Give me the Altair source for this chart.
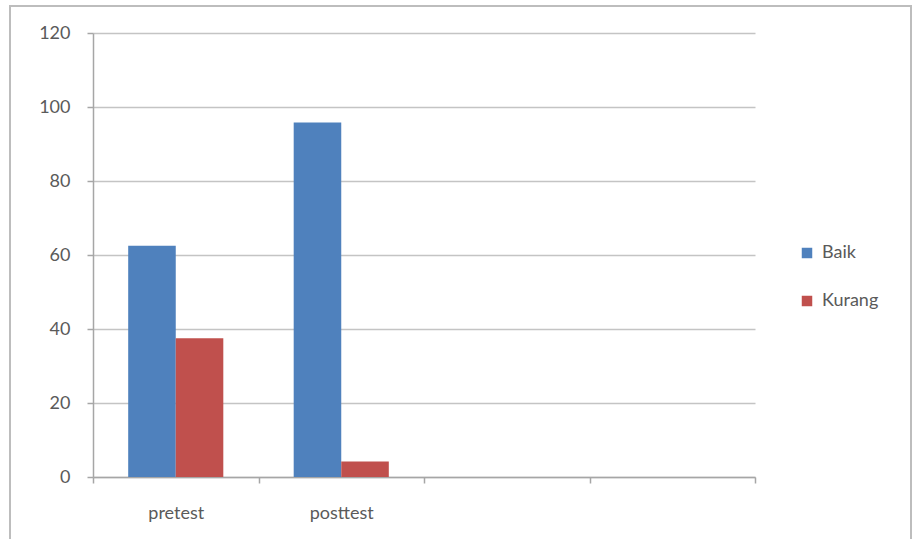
import altair as alt
import pandas as pd

categories = ["pretest", "posttest", "pretest", "posttest"]
series = ["Baik", "Baik", "Kurang", "Kurang"]
values = [62.5, 95.8, 37.5, 4.2]
x_domain = ["pretest", "posttest", "slot3", "slot4"]
series_names = ["Baik", "Kurang"]
series_colors = ["#4F81BD", "#C0504D"]
y_ticks = [0, 20, 40, 60, 80, 100, 120]

df = pd.DataFrame({"kategori": categories, "seri": series, "nilai": values})

FONT = "Lato"
LABEL_COLOR = "#5a5a5a"

bars = alt.Chart(df).mark_bar().encode(
    x=alt.X("kategori:N", sort=x_domain,
            scale=alt.Scale(domain=x_domain, paddingInner=0, paddingOuter=0),
            axis=alt.Axis(title=None, labelAngle=0, tickBand="extent",
                          labelExpr="(datum.value == 'slot3' || datum.value == 'slot4') ? '' : datum.value",
                          domainColor="#a6a6a6", domainWidth=1.5,
                          tickColor="#a6a6a6", tickSize=6, tickWidth=1.5,
                          labelFont=FONT, labelFontSize=18, labelColor=LABEL_COLOR,
                          labelPadding=21, grid=False)),
    xOffset=alt.XOffset("seri:N", sort=series_names,
                        scale=alt.Scale(domain=series_names, paddingInner=0, paddingOuter=0.74)),
    y=alt.Y("nilai:Q",
            scale=alt.Scale(domain=[0, 120], nice=False),
            axis=alt.Axis(title=None, values=y_ticks, format="d",
                          domainColor="#a6a6a6", domainWidth=1.5,
                          tickColor="#a6a6a6", tickSize=6, tickWidth=1.5,
                          gridColor="#c4c4c4", gridWidth=1.5,
                          labelFont=FONT, labelFontSize=18, labelColor=LABEL_COLOR,
                          labelPadding=17)),
    color=alt.Color("seri:N", sort=series_names,
                    scale=alt.Scale(domain=series_names, range=series_colors),
                    legend=alt.Legend(title=None, orient="none", legendX=705, legendY=211,
                                      symbolType="square", symbolSize=110,
                                      symbolStrokeWidth=0,
                                      labelFont=FONT, labelFontSize=18, labelColor=LABEL_COLOR,
                                      rowPadding=30, labelOffset=6)),
)

frame = alt.Chart(pd.DataFrame({"a": [0]})).mark_rect(
    filled=False, stroke="#bdbdbd", strokeWidth=2
).encode(
    x=alt.value(-83), x2=alt.value(818), y=alt.value(-27), y2=alt.value(520)
)

chart = alt.layer(frame, bars).properties(
    width=662, height=444,
    autosize=alt.AutoSizeParams(type="none"),
    padding={"left": 93, "top": 33, "right": 159, "bottom": 62},
    background="white",
).configure_view(stroke=None)

chart.save("out.html", embed_options={"renderer": "svg", "actions": False})
